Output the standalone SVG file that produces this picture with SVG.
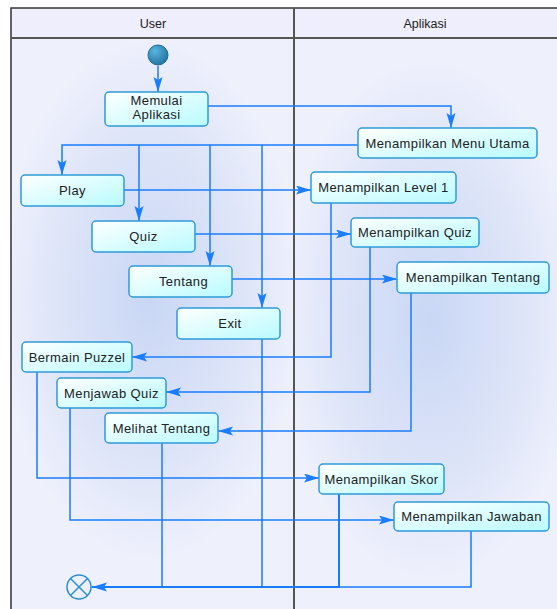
<svg xmlns="http://www.w3.org/2000/svg" width="557" height="609" viewBox="0 0 557 609">
<defs>
<radialGradient id="blobU" cx="150" cy="300" r="200" gradientUnits="userSpaceOnUse" gradientTransform="translate(150 300) scale(0.75 1.3) translate(-150 -300)">
<stop offset="0" stop-color="#c9d7f5"/>
<stop offset="0.6" stop-color="#dde4f8"/>
<stop offset="1" stop-color="#eef0fc"/>
</radialGradient>
<radialGradient id="blobA" cx="430" cy="320" r="200" gradientUnits="userSpaceOnUse" gradientTransform="translate(430 320) scale(0.75 1.3) translate(-430 -320)">
<stop offset="0" stop-color="#c9d7f5"/>
<stop offset="0.6" stop-color="#dde4f8"/>
<stop offset="1" stop-color="#eef0fc"/>
</radialGradient>
<linearGradient id="boxFill" x1="0" y1="0" x2="1" y2="1">
<stop offset="0" stop-color="#ffffff"/>
<stop offset="1" stop-color="#b8fbff"/>
</linearGradient>
<radialGradient id="startFill" cx="0.35" cy="0.3" r="0.8">
<stop offset="0" stop-color="#5ab4dc"/>
<stop offset="1" stop-color="#1d6f9e"/>
</radialGradient>
<marker id="arr" markerUnits="userSpaceOnUse" markerWidth="16" markerHeight="10" refX="15" refY="4.5" orient="auto">
<path d="M0,0 L15,4.5 L0,9 L3,4.5 z" fill="#1a7cff"/>
</marker>
<style>
.lane{stroke:none}
.frame{fill:none;stroke:#333;stroke-width:1.5}
.sep{stroke:#555;stroke-width:2}
.hdr{font-family:"Liberation Sans",Arial,sans-serif;font-size:12.5px;fill:#222;text-anchor:middle}
.box{fill:url(#boxFill);stroke:#2f9ad6;stroke-width:1.5}
.lbl{font-family:"Liberation Sans",Arial,sans-serif;font-size:13px;letter-spacing:0.4px;fill:#222;text-anchor:middle}
.c{fill:none;stroke:#1a7cff;stroke-width:1.5}
</style>
</defs>

<g id="swimlanes">
<rect x="11" y="8" width="283" height="610" fill="url(#blobU)" class="lane"/>
<rect x="294" y="8" width="270" height="610" fill="url(#blobA)" class="lane"/>
<rect x="11" y="8" width="560" height="30" fill="#eeeefc"/>
<rect x="11" y="8" width="560" height="620" class="frame"/>
<line x1="11" y1="38" x2="560" y2="38" class="sep"/>
<line x1="294" y1="8" x2="294" y2="612" class="sep"/>
<text x="153" y="27.5" class="hdr">User</text>
<text x="425" y="27.5" class="hdr">Aplikasi</text>
</g>

<g id="connectors">
<path class="c" d="M158,66 V92" marker-end="url(#arr)"/>
<path class="c" d="M208,106 H451 V128" marker-end="url(#arr)"/>
<path class="c" d="M358,145 H62 V175" marker-end="url(#arr)"/>
<path class="c" d="M139,145 V221" marker-end="url(#arr)"/>
<path class="c" d="M210,145 V266" marker-end="url(#arr)"/>
<path class="c" d="M262,145 V308" marker-end="url(#arr)"/>
<path class="c" d="M124,190 H311" marker-end="url(#arr)"/>
<path class="c" d="M195,234 H351" marker-end="url(#arr)"/>
<path class="c" d="M232,279 H397" marker-end="url(#arr)"/>
<path class="c" d="M331,203 V357 H132" marker-end="url(#arr)"/>
<path class="c" d="M370,247 V392 H166" marker-end="url(#arr)"/>
<path class="c" d="M411,293 V431 H218" marker-end="url(#arr)"/>
<path class="c" d="M37,372 V478 H319" marker-end="url(#arr)"/>
<path class="c" d="M70,408 V520 H394" marker-end="url(#arr)"/>
<path class="c" d="M471,531 V587 H339"/>
<path class="c" d="M339,494 V587 H92" marker-end="url(#arr)" style="stroke-width:2"/>
<path class="c" d="M162,443 V587"/>
<path class="c" d="M262,339 V587"/>
</g>

<g id="start">
<circle cx="158" cy="55" r="10" fill="url(#startFill)" stroke="#1a6a98" stroke-width="1"/>
</g>

<g id="memulai">
<rect x="105" y="92" width="103" height="34" rx="4" class="box"/>
<text x="156.5" y="105" class="lbl">Memulai</text>
<text x="156.5" y="118.5" class="lbl">Aplikasi</text>
</g>

<g id="menu-utama">
<rect x="358" y="128" width="179" height="30" rx="4" class="box"/>
<text x="447.5" y="147.5" class="lbl">Menampilkan Menu Utama</text>
</g>

<g id="play">
<rect x="21" y="175" width="103" height="31" rx="4" class="box"/>
<text x="72.5" y="195" class="lbl">Play</text>
</g>

<g id="quiz">
<rect x="92" y="221" width="103" height="31" rx="4" class="box"/>
<text x="143.5" y="241" class="lbl">Quiz</text>
</g>

<g id="tentang">
<rect x="129" y="266" width="103" height="31" rx="4" class="box"/>
<text x="183.5" y="286" class="lbl">Tentang</text>
</g>

<g id="exit">
<rect x="177" y="308" width="103" height="31" rx="4" class="box"/>
<text x="230" y="328" class="lbl">Exit</text>
</g>

<g id="level1">
<rect x="311" y="172" width="145" height="31" rx="4" class="box"/>
<text x="383.5" y="192" class="lbl">Menampilkan Level 1</text>
</g>

<g id="m-quiz">
<rect x="351" y="218" width="128" height="29" rx="4" class="box"/>
<text x="415" y="237" class="lbl">Menampilkan Quiz</text>
</g>

<g id="m-tentang">
<rect x="397" y="262" width="152" height="31" rx="4" class="box"/>
<text x="473" y="282" class="lbl">Menampilkan Tentang</text>
</g>

<g id="bermain">
<rect x="22" y="342" width="110" height="30" rx="4" class="box"/>
<text x="77" y="361.5" class="lbl">Bermain Puzzel</text>
</g>

<g id="menjawab">
<rect x="57" y="378" width="109" height="30" rx="4" class="box"/>
<text x="111.5" y="397.5" class="lbl">Menjawab Quiz</text>
</g>

<g id="melihat">
<rect x="105" y="413" width="113" height="30" rx="4" class="box"/>
<text x="161.5" y="432.5" class="lbl">Melihat Tentang</text>
</g>

<g id="skor">
<rect x="319" y="464" width="125" height="30" rx="4" class="box"/>
<text x="381.5" y="483.5" class="lbl">Menampilkan Skor</text>
</g>

<g id="jawaban">
<rect x="394" y="502" width="155" height="29" rx="4" class="box"/>
<text x="471.5" y="521" class="lbl">Menampilkan Jawaban</text>
</g>

<g id="end">
<circle cx="79" cy="587" r="12" fill="#eef0fc" stroke="#2a8fd0" stroke-width="1.5"/>
<path d="M70.5,578.5 L87.5,595.5 M87.5,578.5 L70.5,595.5" stroke="#2a8fd0" stroke-width="1.5"/>
</g>
</svg>
